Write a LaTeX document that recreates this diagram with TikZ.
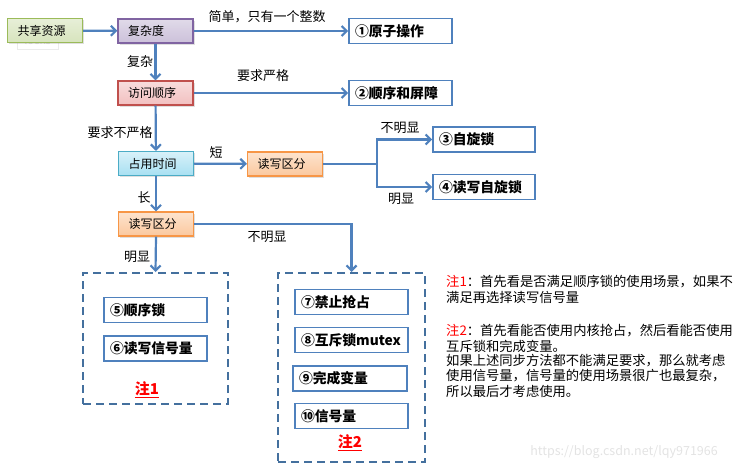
\documentclass[tikz,border=0pt]{standalone}
\usepackage{fontspec}
\setmainfont{Noto Sans CJK SC}
\usetikzlibrary{arrows.meta,shadows}
\definecolor{arr}{HTML}{4F81BD}
\definecolor{dash}{HTML}{44709E}
\definecolor{gB}{HTML}{9BBB59}\definecolor{gF}{HTML}{D7E4BD}
\definecolor{pB}{HTML}{8064A2}\definecolor{pF}{HTML}{CCC1DA}
\definecolor{rB}{HTML}{C0504D}\definecolor{rF}{HTML}{F2C0C0}
\definecolor{cB}{HTML}{4BACC6}\definecolor{cF}{HTML}{A8E0F2}
\definecolor{oB}{HTML}{F79646}\definecolor{oF}{HTML}{FBC89E}
\definecolor{notered}{HTML}{FF0000}
\begin{document}
\begin{tikzpicture}[x=1pt,y=-1pt,
  box/.style={draw, line width=1.2pt, minimum height=24pt, text width=55pt, inner xsep=10pt, inner ysep=0pt, align=left,
    font=\fontsize{12pt}{14pt}\selectfont, drop shadow={opacity=0.25, shadow xshift=1.5pt, shadow yshift=-1.5pt}},
  result/.style={draw=arr, line width=1.6pt, fill=white, minimum height=25pt, inner xsep=6pt, inner ysep=0pt, align=left,
    font=\bfseries\fontsize{13.8pt}{15pt}\selectfont},
  lbl/.style={font=\fontsize{13pt}{15pt}\selectfont, inner sep=0pt},
  conn/.style={draw=arr, line width=2.2pt, -{Straight Barb[length=5pt,width=10pt]}},
  plain/.style={draw=arr, line width=2.2pt},
  group/.style={draw=dash, line width=2pt, dash pattern=on 8pt off 5pt},
  notered/.style={text=notered, font=\bfseries\fontsize{15pt}{17pt}\selectfont, inner sep=0pt},
  notetext/.style={font=\fontsize{13.3pt}{15pt}\selectfont, inner sep=0pt, anchor=west}
]
\useasboundingbox (0,0) rectangle (745,471);
% ghost
\node[draw=black!8, text=black!12, font=\fontsize{11pt}{12pt}\selectfont, minimum width=41pt, minimum height=17pt, inner sep=0pt] (ghost) at (37.5,40.5) {locks};
% main boxes
\node[box, draw=gB, top color=gF!60, bottom color=gF] (share) at (45,30.5) {共享资源};
\node[box, draw=pB, top color=pF!60, bottom color=pF] (cplx) at (155.5,31) {复杂度};
\node[box, draw=rB, top color=rF!55, bottom color=rF] (order) at (155.5,93) {访问顺序};
\node[box, draw=cB, top color=cF!45, bottom color=cF] (occ) at (156,163.5) {占用时间};
\node[box, draw=oB, top color=oF!50, bottom color=oF] (rwa) at (285,164) {读写区分};
\node[box, draw=oB, top color=oF!50, bottom color=oF] (rwb) at (156,224) {读写区分};
% results
\node[result, text width=91pt] (r1) at (400.5,31) {①原子操作};
\node[result, text width=91pt] (r2) at (400.5,93) {②顺序和屏障};
\node[result, text width=90pt] (r3) at (484,139.5) {③自旋锁};
\node[result, text width=90pt] (r4) at (484,187) {④读写自旋锁};
% groups
\node[group, minimum width=145pt, minimum height=131pt] (g1) at (155.5,338.5) {};
\node[group, minimum width=147pt, minimum height=189pt] (g2) at (351.5,367.5) {};
\node[result, text width=91pt] (r5) at (155.5,310) {⑤顺序锁};
\node[result, text width=91pt] (r6) at (155.5,348.5) {⑥读写信号量};
\node[result, text width=101pt] (r7) at (351.5,302) {⑦禁止抢占};
\node[result, text width=101pt] (r8) at (351.5,340) {⑧互斥锁mutex};
\node[result, text width=102pt] (r9) at (350,378.5) {⑨完成变量};
\node[result, text width=101pt] (r10) at (351.5,416) {⑩信号量};
\node[notered] (n1) at (147,390) {\underline{注1}};
\node[notered] (n2) at (350,443) {\underline{注2}};
% connectors
\draw[conn] (share) -- (cplx);
\draw[conn] (cplx) -- (r1);
\draw[conn] (cplx) -- (order);
\draw[conn] (order) -- (r2);
\draw[conn] (order) -- (occ);
\draw[conn] (occ) -- (rwa);
\draw[conn] (occ) -- (rwb);
\coordinate (br) at (377,164);
\draw[plain] (rwa.east) -- (br);
\draw[conn] (br) |- (r3.west);
\draw[conn] (br) |- (r4.west);
\draw[conn] (rwb.south) -- (g1.north);
\draw[conn] (rwb.east) -| (g2.north);
% labels
\node[lbl] (l1) at (267,17) {简单，只有一个整数};
\node[lbl] (l2) at (140,62) {复杂};
\node[lbl] (l3) at (263,76) {要求严格};
\node[lbl] (l4) at (120,133) {要求不严格};
\node[lbl] (l5) at (216,152) {短};
\node[lbl] (l6) at (144,198) {长};
\node[lbl] (l7) at (400,128) {不明显};
\node[lbl] (l8) at (401,199) {明显};
\node[lbl] (l9) at (267,237) {不明显};
\node[lbl] (l10) at (137,257) {明显};
% note text
\node[notetext] (t1) at (446,282) {\textcolor{notered}{注1}：首先看是否满足顺序锁的使用场景，如果不};
\node[notetext] (t2) at (446,297) {满足再选择读写信号量};
\node[notetext] (t3) at (446,331) {\textcolor{notered}{注2}：首先看能否使用内核抢占，然后看能否使用};
\node[notetext] (t4) at (446,346) {互斥锁和完成变量。};
\node[notetext] (t5) at (446,361) {如果上述同步方法都不能满足要求，那么就考虑};
\node[notetext] (t6) at (446,376) {使用信号量，信号量的使用场景很广也最复杂，};
\node[notetext] (t7) at (446,391) {所以最后才考虑使用。};
% watermark
\node[text=black!11, font=\fontsize{12.5pt}{14pt}\selectfont, inner sep=0pt] (wm) at (624,452) {https://blog.csdn.net/lqy971966};
\end{tikzpicture}
\end{document}
